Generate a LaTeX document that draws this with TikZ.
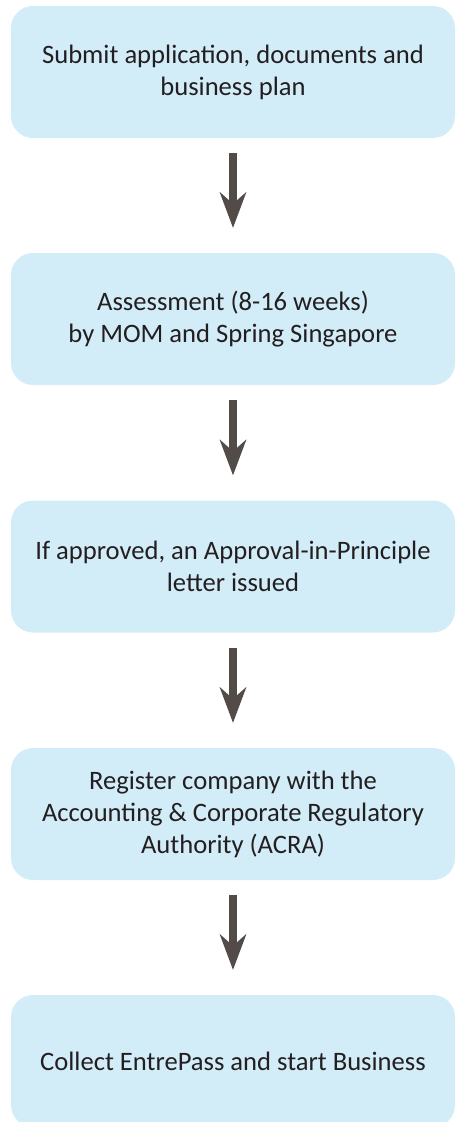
\documentclass[tikz,border=0pt]{standalone}
\usepackage{fontspec}
\setmainfont{Carlito}
\usetikzlibrary{arrows.meta}
\definecolor{boxblue}{HTML}{D2ECF8}
\definecolor{arrowgray}{HTML}{524B48}
\definecolor{textgray}{HTML}{231F20}
\begin{document}
\begin{tikzpicture}[x=1pt,y=-1pt,
  stepbox/.style={fill=boxblue, rounded corners=22pt, minimum width=444pt,
    minimum height=132pt, align=center, text=textgray,
    font=\fontsize{26.6}{32}\selectfont, inner sep=0pt,
    execute at begin node={\vspace*{5pt}}},
  flow/.style={draw=arrowgray, line width=8pt,
    -{Stealth[length=36pt,width=27pt,inset=12pt,line width=0pt]},
    shorten <=15pt, shorten >=25pt}]
\useasboundingbox (0,0) rectangle (459,1122);
\clip (0,0) rectangle (459,1122);
\node[stepbox] (s1) at (233,72) {Submit application, documents and\\business plan};
\node[stepbox] (s2) at (233,319) {Assessment (8-16 weeks)\\by MOM and Spring Singapore};
\node[stepbox] (s3) at (233,566.5) {If approved, an Approval-in-Principle\\letter issued};
\node[stepbox] (s4) at (233,814) {Register company with the\\Accounting \& Corporate Regulatory\\Authority (ACRA)};
\node[stepbox] (s5) at (233,1061) {Collect EntrePass and start Business};
\draw[flow] (s1) -- (s2);
\draw[flow] (s2) -- (s3);
\draw[flow] (s3) -- (s4);
\draw[flow] (s4) -- (s5);
\end{tikzpicture}
\end{document}
